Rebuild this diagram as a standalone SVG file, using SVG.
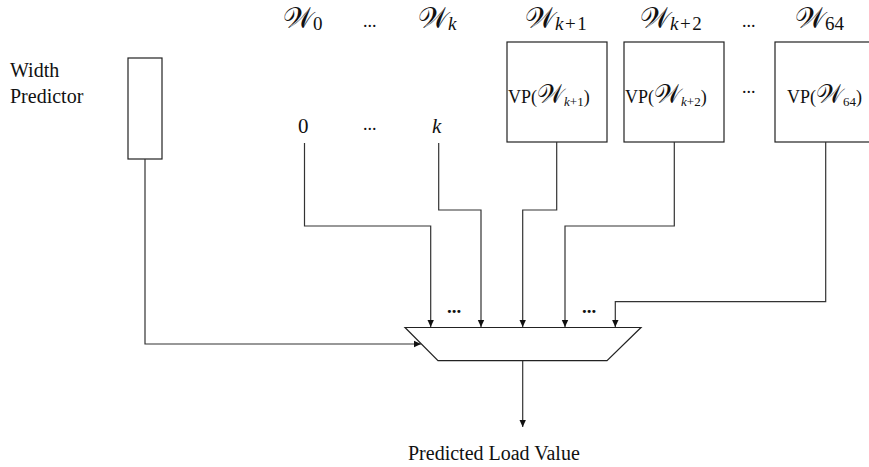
<svg xmlns="http://www.w3.org/2000/svg" width="869" height="467" viewBox="0 0 869 467">
<style>
.t{font-family:"Liberation Serif","DejaVu Serif",serif;fill:#111}
.w{font-family:"DejaVu Serif","Liberation Serif",serif;font-size:29px}
.sub{font-family:"Liberation Serif",serif;font-size:19px}
.it{font-style:italic}
.box{fill:#fff;stroke:#222;stroke-width:1.2}
.ln{fill:none;stroke:#333;stroke-width:1.2}
.vp{font-size:18px}
.vw{font-family:"DejaVu Serif","Liberation Serif",serif;font-size:26px}
.vs{font-size:13px}
.dots{font-size:19px;font-weight:bold}
</style>
<defs>
<marker id="ah" markerWidth="8" markerHeight="8" refX="7" refY="4" orient="auto" markerUnits="userSpaceOnUse">
<path d="M0,0.8 L7,4 L0,7.2 Z" fill="#111"/>
</marker>
</defs>
<g id="top-labels" class="t">
<text class="w" x="283" y="28">𝒲<tspan class="sub" dy="2">0</tspan></text>
<text x="363" y="27" font-size="18">...</text>
<text class="w" x="418" y="28">𝒲<tspan class="sub it" dy="2">k</tspan></text>
<text class="w" x="525" y="28">𝒲<tspan class="sub" dy="2" letter-spacing="1.5"><tspan class="it">k</tspan>+1</tspan></text>
<text class="w" x="640" y="28">𝒲<tspan class="sub" dy="2" letter-spacing="1.5"><tspan class="it">k</tspan>+2</tspan></text>
<text x="742" y="27" font-size="18">...</text>
<text class="w" x="795" y="28">𝒲<tspan class="sub" dy="2">64</tspan></text>
</g>
<g id="width-predictor">
<rect class="box" x="128" y="58" width="34" height="101"/>
<text class="t" x="10" y="77" font-size="20">Width</text>
<text class="t" x="10" y="103" font-size="20">Predictor</text>
</g>
<g id="src-0"><text class="t" x="298" y="133" font-size="21">0</text></g>
<g id="src-dots"><text class="t" x="363" y="130" font-size="18">...</text></g>
<g id="src-k"><text class="t it" x="432" y="133" font-size="21">k</text></g>
<g id="vp-k1">
<rect class="box" x="507" y="42" width="100" height="100"/>
<text class="t vp" x="508" y="103">VP(<tspan class="vw">𝒲</tspan><tspan class="vs" dy="3"><tspan class="it">k</tspan>+1</tspan><tspan dy="-3">)</tspan></text>
</g>
<g id="vp-k2">
<rect class="box" x="624" y="42" width="100" height="100"/>
<text class="t vp" x="625" y="103">VP(<tspan class="vw">𝒲</tspan><tspan class="vs" dy="3"><tspan class="it">k</tspan>+2</tspan><tspan dy="-3">)</tspan></text>
</g>
<g id="vp-dots"><text class="t" x="742" y="93" font-size="18">...</text></g>
<g id="vp-64">
<rect class="box" x="775" y="42" width="100" height="100"/>
<text class="t vp" x="787" y="103">VP(<tspan class="vw">𝒲</tspan><tspan class="vs" dy="3">64</tspan><tspan dy="-3">)</tspan></text>
</g>
<g id="mux">
<path class="box" d="M405,327.5 L641,327.5 L607,360.7 L438,360.7 Z"/>
<text class="t dots" x="447" y="313">...</text>
<text class="t dots" x="582" y="313">...</text>
</g>
<g id="output">
<text class="t" x="408" y="460" font-size="20">Predicted Load Value</text>
</g>
<g id="connectors">
<path class="ln" d="M145,159 V344 H421" marker-end="url(#ah)"/>
<path class="ln" d="M304.5,143 V226 H430.7 V327" marker-end="url(#ah)"/>
<path class="ln" d="M438.7,143 V210 H481 V327" marker-end="url(#ah)"/>
<path class="ln" d="M556.7,142 V210 H522.7 V327" marker-end="url(#ah)"/>
<path class="ln" d="M674.3,142 V226 H565 V327" marker-end="url(#ah)"/>
<path class="ln" d="M825.7,142 V301.7 H615.3 V327" marker-end="url(#ah)"/>
<path class="ln" d="M522.7,360.7 V427" marker-end="url(#ah)"/>
</g>
</svg>
